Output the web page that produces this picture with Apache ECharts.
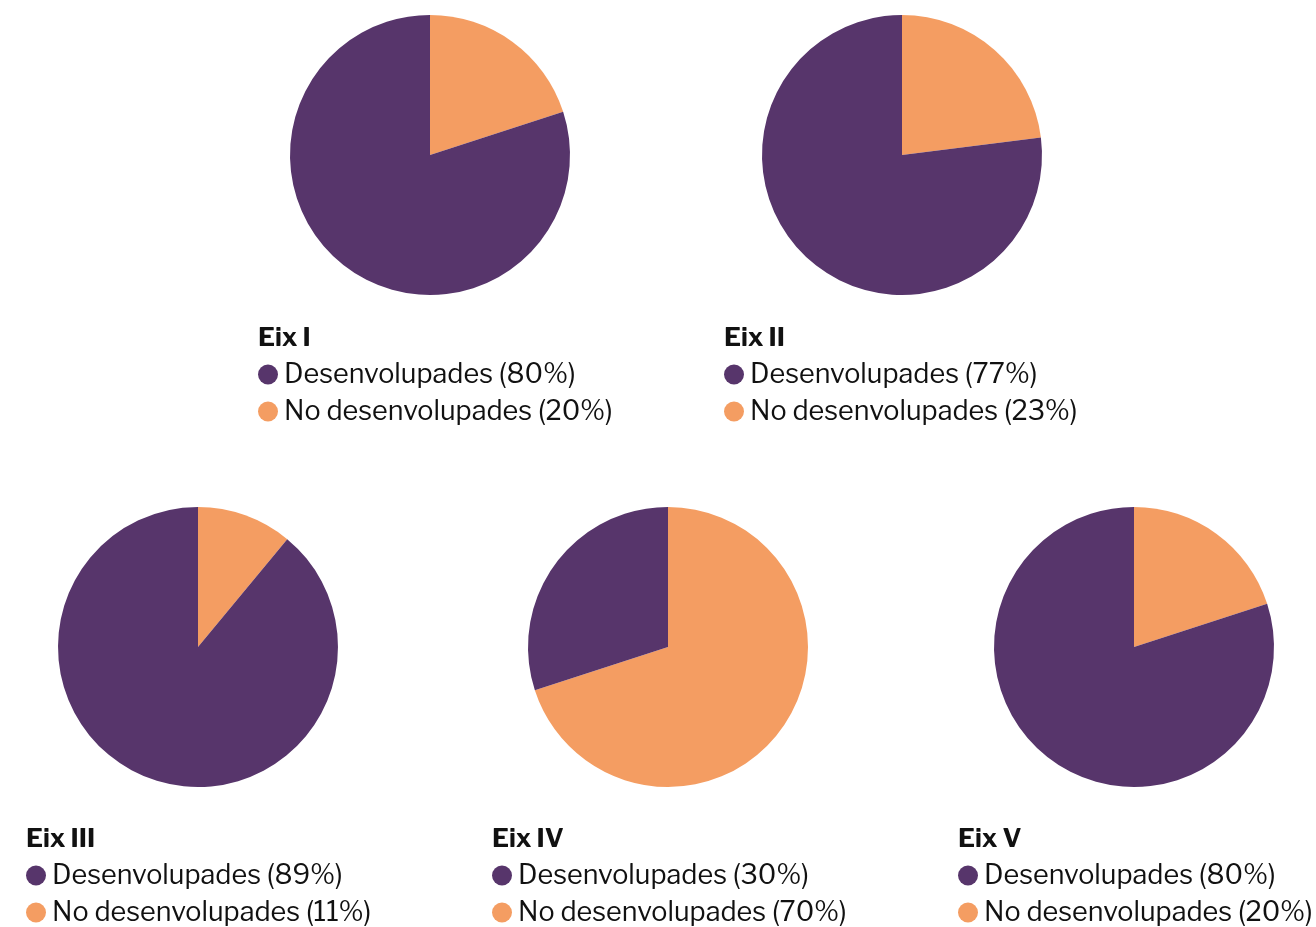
<!DOCTYPE html>
<html>
<head>
<meta charset="utf-8">
<style>
  html, body { margin: 0; padding: 0; background: #fff; }
  #chart { width: 1316px; height: 927px; }
</style>
<script src="https://cdn.jsdelivr.net/npm/echarts@6/dist/echarts.min.js"></script>
</head>
<body>
<div id="chart"></div>
<script>
// Share of actions developed per axis (%)
const axes = ['Eix I', 'Eix II', 'Eix III', 'Eix IV', 'Eix V'];
const developed = [80, 77, 89, 30, 80];
const notDeveloped = [20, 23, 11, 70, 20];
const labelDeveloped = 'Desenvolupades';
const labelNotDeveloped = 'No desenvolupades';

const PURPLE = '#57356b';
const ORANGE = '#f49d62';
const FONT = '"Libre Franklin", "Noto Sans", "Open Sans", sans-serif';

// Layout of each small pie: centre, and where its title/legend block starts
const layout = [
  { cx: 430, cy: 155, left: 258, top: 322 },
  { cx: 902, cy: 155, left: 724, top: 322 },
  { cx: 198, cy: 647, left: 26,  top: 823 },
  { cx: 668, cy: 647, left: 492, top: 823 },
  { cx: 1134, cy: 647, left: 958, top: 823 }
];
const RADIUS = 140;

const titles = [], legends = [], series = [];
axes.forEach((axis, i) => {
  const L = layout[i];
  const nameDev = `${labelDeveloped} (${developed[i]}%)`;
  const nameNot = `${labelNotDeveloped} (${notDeveloped[i]}%)`;
  titles.push({
    text: axis,
    left: L.left,
    top: L.top + 3,
    padding: 0,
    textStyle: { fontFamily: FONT, fontSize: 26, fontWeight: 'bold', color: '#111' }
  });
  legends.push({
    orient: 'vertical',
    left: L.left,
    top: L.top + 39,
    padding: 0,
    icon: 'circle',
    itemWidth: 20,
    itemHeight: 20,
    itemGap: 10,
    selectedMode: false,
    textStyle: { fontFamily: FONT, fontSize: 27, color: '#111', padding: [0, 0, 0, 1] },
    data: [nameDev, nameNot]
  });
  series.push({
    type: 'pie',
    name: axis,
    center: [L.cx, L.cy],
    radius: RADIUS,
    startAngle: 90,
    clockwise: true,
    silent: true,
    label: { show: false },
    labelLine: { show: false },
    animation: false,
    data: [
      { name: nameNot, value: notDeveloped[i], itemStyle: { color: ORANGE } },
      { name: nameDev, value: developed[i], itemStyle: { color: PURPLE } }
    ]
  });
});

const chart = echarts.init(document.getElementById('chart'), null, { renderer: 'canvas' });
chart.setOption({
  backgroundColor: '#ffffff',
  animation: false,
  title: titles,
  legend: legends,
  series: series
});
</script>
</body>
</html>
